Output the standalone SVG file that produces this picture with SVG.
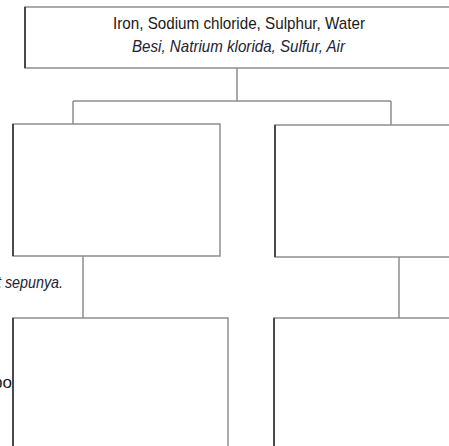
<svg xmlns="http://www.w3.org/2000/svg" width="449" height="446" viewBox="0 0 449 446">
  <style>
    .box { fill: #ffffff; stroke: #8e8e8e; stroke-width: 1.5; }
    .edge { stroke: #2a2a2a; stroke-width: 1.5; }
    .link { fill: none; stroke: #8e8e8e; stroke-width: 1.5; }
    .t { font-family: "Liberation Sans", Arial, sans-serif; font-size: 17px; fill: #1a1a1a; }
    .i { font-style: italic; fill: #222233; }
  </style>
  <rect width="449" height="446" fill="#ffffff"/>

  <!-- connectors -->
  <g id="connectors">
    <path class="link" d="M237,68 V101 M73,101 H391 M73,101 V124 M391,101 V125"/>
    <path class="link" d="M83,256 V318 M399,257 V318"/>
  </g>

  <!-- root node -->
  <g id="root">
    <rect class="box" x="25" y="7" width="440" height="61"/>
    <line class="edge" x1="25" y1="7" x2="25" y2="68" stroke="#555"/>
    <text class="t" x="239" y="29" text-anchor="middle" textLength="252" lengthAdjust="spacingAndGlyphs">Iron, Sodium chloride, Sulphur, Water</text>
    <text class="t i" x="238.5" y="52" text-anchor="middle" textLength="213" lengthAdjust="spacingAndGlyphs">Besi, Natrium klorida, Sulfur, Air</text>
  </g>

  <!-- second level -->
  <g id="group-left">
    <rect class="box" x="13" y="124" width="207" height="132"/>
    <line class="edge" x1="13" y1="124" x2="13" y2="256"/>
  </g>
  <g id="group-right">
    <rect class="box" x="275" y="125" width="190" height="132"/>
    <line class="edge" x1="275" y1="125" x2="275" y2="257"/>
  </g>

  <!-- third level -->
  <g id="sub-left">
    <rect class="box" x="13" y="318" width="215" height="140"/>
    <line class="edge" x1="13" y1="318" x2="13" y2="446"/>
  </g>
  <g id="sub-right">
    <rect class="box" x="274" y="318" width="190" height="140"/>
    <line class="edge" x1="274" y1="318" x2="274" y2="446"/>
  </g>

  <!-- side notes running in from the left margin -->
  <g id="notes">
    <text class="t i" x="63" y="288" text-anchor="end" font-size="14" textLength="66" lengthAdjust="spacingAndGlyphs">t sepunya.</text>
    <text class="t" x="12" y="388" text-anchor="end" font-size="15">po</text>
  </g>
</svg>
